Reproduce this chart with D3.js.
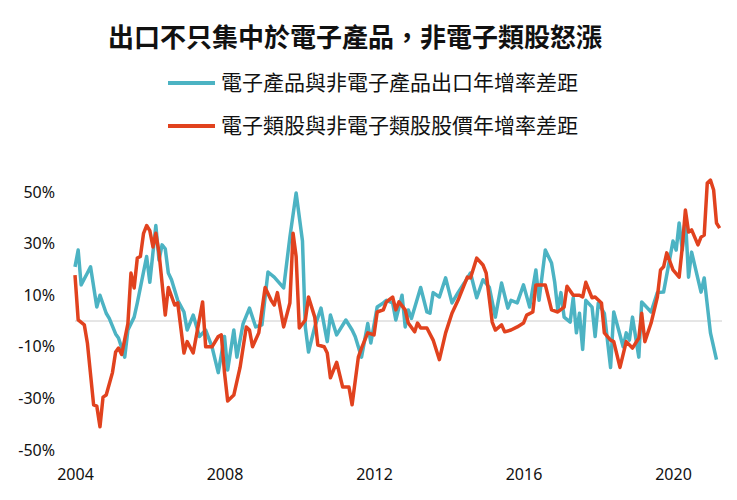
<!DOCTYPE html>
<html><head><meta charset="utf-8">
<script src="https://cdn.jsdelivr.net/npm/d3@7"></script>
<style>body{margin:0;background:#fff}svg{font-family:"Noto Sans CJK TC","Noto Sans",sans-serif}</style>
</head><body><svg id="c" width="737" height="500"></svg>
<script>
const title = "出口不只集中於電子產品，非電子類股怒漲";
const seriesNames = ["電子產品與非電子產品出口年增率差距","電子類股與非電子類股股價年增率差距"];
const yTicks = [-50,-30,-10,10,30,50];
const xTicks = [2004,2008,2012,2016,2020];
// [month index from Jan 2004, value %]
const exportGap = [[0,21],[1,27.5],[2,14],[4,18.6],[5,21],[7,5.4],[8,10],[10,3],[11,1],[13,-5],[14,-6.6],[16,-14],[17,-3.5],[19,1.5],[20,7],[23,25],[24,15],[26,37],[27,23.6],[28,29.5],[29,28],[30,18.6],[31,16],[33,8],[35,3.5],[36,-3.5],[38,2.3],[40,-6],[42,-3.5],[44,-10],[46,-20],[48,-6],[49,-19],[51,-3.5],
[52,-14],[54,-1],[56,5],[58,-2.3],[60,-1.5],[62,19],[64,17],[67,12.8],[69,32.5],[71,49.6],[73,31],[74,-2.3],[75,-12],[77,-2.3],[79,5],[81,-8],[82,2.3],[84,-5.4],[87,0.4],[89,-3.5],[90,-6],[92,-14],[94,-1],[95,-8.5],[97,5.4],[99,7],[100,8],[102,7],[103,0.4],
[105,10],[106,-2.3],[107,4.3],[108,1],[111,13],[113,3.5],[114,3],[115,11],[117,9.3],[119,16.7],[121,7],[123,11],[125,14.7],[127,18.6],[129,9],[131,16],[133,13],[135,1.5],[137,14.7],[139,5],[140,8],[142,7],[144,14],[146,5.4],[148,19.8],[149,8],[151,27.5],[153,22.5],[154,15],[155,4.3],[156,11],[157,1.5],[159,-0.4],[160,9],[161,-4.6],[162,3],[163,-11],[164,8],[166,5.4],[167,-6],[168,7],[170,3],[172,-18],[173,3.5],[176,-10],[177,-4.6],[178,-7.4],[179,1.5],[181,-14],[182,7.4],[185,3.5],[187,11],[189,11.2],[192,31],[193,27.5],[194,38],[195,27.5],[196,40],[197,17],[198,26.7],[201,11.2],[202,16.7],[204,-4.6],[206,-15]];
const stockGap = [[0,17.8],[1,0.4],[3,-1.5],[4,-8.5],[6,-32.5],[7,-33],[8,-41],[9,-29.5],[10,-28.7],[12,-20],[13,-12],[14,-10.5],[15,-13],[17,-1],[18,18.6],[19,12.8],[20,24.4],[21,25],[22,34],[23,37],[24,35],[25,28.7],[26,34],[27,26.4],[28,14.7],[29,2.3],[30,13],[32,6.2],[33,7],[35,-12.4],[36,-8],[38,-12.4],[41,7.4],[42,-10],[44,-10],[46,-6],[47,-5.4],[48,-20],[49,-31],[51,-28.7],
[53,-18],[55,-2.3],[56,-3.5],[57,-10],[59,-4.6],[61,13],[63,8],[64,6.2],[65,11],[67,-2.3],[69,7],[70,34],[71,25],[72,-2.7],[74,0.4],[75,9.3],[77,1.5],[78,-9.3],[80,-10],[81,-12.4],[82,-22],[84,-16],[86,-25.6],[88,-25.6],[89,-32.5],[91,-14],[92,-10.5],[94,-4.6],[96,-5.4],[97,3.5],[99,4.3],[100,7.4],[102,9.3],[103,4.3],[104,7.4],
[106,4.3],[107,-0.8],[109,-4.2],[110,-0.8],[111,-2.7],[113,-2.7],[115,-7.4],[117,-15],[119,-4.6],[121,3],[123,8],[126,17],[127,16.7],[129,24.4],[131,21.7],[132,18.6],[134,-0.4],[135,-3.5],[137,-1.5],[138,-4.2],[140,-3.5],[142,-2.3],[144,-0.8],[145,2.3],[147,3.5],[148,14],[151,14],[153,4.3],[155,3.5],[157,5.4],
[158,13.5],[160,10],[162,10],[163,9.3],[164,15],[166,9],[167,9.3],[169,7],[170,-4.6],[172,-7.4],[173,-8],[175,-18],[177,-8],[179,-10.5],[181,-6.6],[182,3],[183,-8],[185,-0.8],[187,9.3],[188,19.8],[189,21],[190,26.4],[192,19.8],[194,17],[195,28.7],[196,43],[197,34.5],[198,35.3],[200,29.5],[201,32.5],[202,33.3],[203,53.5],[204,54.6],[205,50.8],[206,38],[207,36]];
const colors = ["#4cb3c3","#e1421e"];

const svg = d3.select("#c");
const x = d3.scaleTime().domain([new Date(2004,0,1), new Date(2020,0,1)]).range([75,673]);
const y = d3.scaleLinear().domain([-50,50]).range([450,192]);
const toDate = m => new Date(2004, m, 1);

svg.append("text").attr("x",355).attr("y",47).attr("text-anchor","middle")
  .attr("font-size",26).attr("font-weight","bold").attr("fill","#111").text(title);
seriesNames.forEach((n,i)=>{
  const ly = 83 + i*43;
  svg.append("line").attr("x1",168).attr("x2",215).attr("y1",ly).attr("y2",ly)
    .attr("stroke",colors[i]).attr("stroke-width",4);
  svg.append("text").attr("x",221).attr("y",ly+7).attr("font-size",21).attr("fill","#111").text(n);
});

svg.append("line").attr("x1",75).attr("x2",722).attr("y1",y(0)).attr("y2",y(0))
  .attr("stroke","#ccc").attr("stroke-width",1);

const yAxis = svg.append("g").attr("transform","translate(55,0)")
  .call(d3.axisLeft(y).tickValues(yTicks).tickSize(0).tickFormat(d=>d+"%"));
yAxis.select(".domain").remove();
yAxis.selectAll("text").attr("font-size",16).attr("fill","#111").attr("text-anchor","end").attr("x",0)
  .style("font-family","'Noto Sans',sans-serif");

const xAxis = svg.append("g").attr("transform","translate(0,466)")
  .call(d3.axisBottom(x).tickValues(xTicks.map(t=>new Date(t,0,1))).tickSize(0).tickFormat(d3.timeFormat("%Y")));
xAxis.select(".domain").remove();
xAxis.selectAll("text").attr("font-size",16).attr("fill","#111").style("font-family","'Noto Sans',sans-serif");

const line = d3.line().x(d=>x(toDate(d[0]))).y(d=>y(d[1]));
[exportGap, stockGap].forEach((s,i)=>{
  svg.append("path").datum(s).attr("d",line).attr("fill","none")
    .attr("stroke",colors[i]).attr("stroke-width",3.5).attr("stroke-linejoin","round");
});
</script></body></html>
